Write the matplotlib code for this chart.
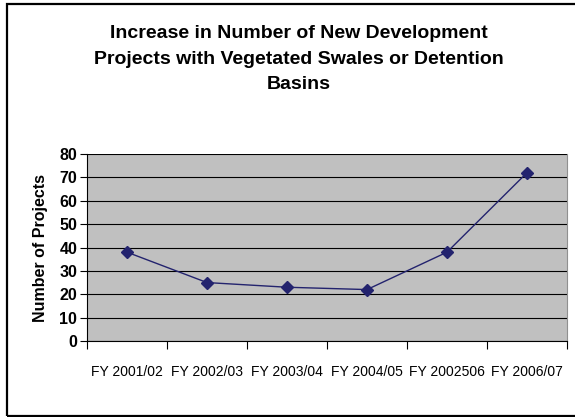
import numpy as np
import matplotlib.pyplot as plt
from matplotlib.patches import Rectangle

# data
years = ["FY 2001/02", "FY 2002/03", "FY 2003/04", "FY 2004/05", "FY 2002506", "FY 2006/07"]
projects = [38, 25, 23, 22, 38, 72]

W, H = 575, 417
fig = plt.figure(figsize=(W / 100, H / 100), dpi=100)

# outer chart border (Excel style)
fig.patches.append(Rectangle((6.5 / W, 1 - 416 / H), 1.2, (416 - 4) / H, transform=fig.transFigure,
                             fill=False, edgecolor="black", linewidth=1.6))

ax = fig.add_axes([87 / W, 1 - 341 / H, (567 - 87) / W, (341 - 154) / H])
ax.set_facecolor("#c0c0c0")

x = np.arange(len(years))
ax.plot(x, projects, color="#23236e", linewidth=1, marker="D", markersize=6)

ax.set_xlim(-0.5, len(years) - 0.5)
ax.set_ylim(0, 80)
ax.set_yticks(np.arange(0, 81, 10))
ax.grid(axis="y", color="black", linewidth=0.8)
ax.set_axisbelow(True)

# category boundary ticks, labels centered between them
ax.set_xticks(np.arange(-0.5, len(years)), labels=[])
ax.set_xticks(x, labels=years, minor=True)
ax.tick_params(axis="x", which="major", length=6, width=0.8, direction="out")
ax.tick_params(axis="x", which="minor", length=0, pad=17, labelsize=10)
for lab in ax.get_xticklabels(minor=True):
    lab.set_fontfamily(["Liberation Sans Narrow", "Liberation Sans"])
ax.tick_params(axis="y", length=5, width=0.8, pad=2, labelsize=11.5)
for lab in ax.get_yticklabels():
    lab.set_fontweight("bold")
    lab.set_fontfamily("Liberation Sans")

ax.spines["top"].set_visible(False)
ax.spines["right"].set_color("#909090")
ax.spines["left"].set_color("black")
ax.spines["bottom"].set_color("black")

ax.set_ylabel("Number of Projects", fontsize=11.5, fontweight="bold", family="Liberation Sans", labelpad=8)

fig.text(299 / W, 1 - 59 / H,
         "Increase in Number of New Development\nProjects with Vegetated Swales or Detention\nBasins",
         ha="center", va="center", fontsize=14, fontweight="bold", family="Liberation Sans",
         linespacing=1.64)

fig.savefig("out.png", dpi=100)
